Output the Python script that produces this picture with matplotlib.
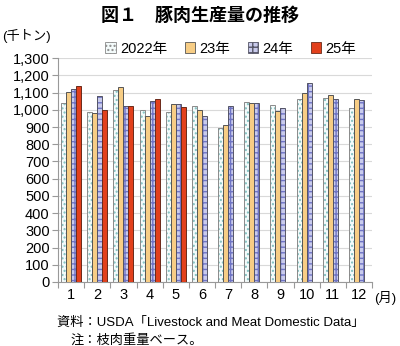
import matplotlib.pyplot as plt
import numpy as np

plt.rcParams['font.family'] = ['Liberation Sans', 'Noto Sans CJK JP', 'DejaVu Sans']
JP = ['Noto Sans CJK JP', 'DejaVu Sans']

months = [str(m) for m in range(1, 13)]
series_names = ['2022年', '23年', '24年', '25年']
v2022 = [1037, 985, 1117, 1001, 989, 1024, 896, 1047, 1030, 1063, 1068, 1012]
v2023 = [1101, 981, 1130, 964, 1033, 1001, 912, 1041, 993, 1099, 1086, 1064]
v2024 = [1120, 1078, 1022, 1053, 1035, 962, 1024, 1041, 1012, 1155, 1061, 1059]
v2025 = [1138, 999, 1024, 1064, 1016, np.nan, np.nan, np.nan, np.nan, np.nan, np.nan, np.nan]

fig = plt.figure(figsize=(4.0, 3.46), dpi=100)
ax = fig.add_axes([0.145, 0.185, 0.785, 0.647])

x = np.arange(len(months))
w = 0.19
# (face, hatch, hatch colour, edge)
styles = [
    ('#f4fbfb', '....', '#7fbfbf', '#8a8a8a'),
    ('#f7cd85', None, None, '#555555'),
    ('#c9cbec', '+++', '#6f74c4', '#555566'),
    ('#e2401c', None, None, '#6a2a1a'),
]
data = [v2022, v2023, v2024, v2025]
handles = []
for i, (vals, (fc, hatch, hc, ec)) in enumerate(zip(data, styles)):
    pos = x + (i - 1.5) * w
    if hatch:
        ax.bar(pos, vals, w, color=fc, edgecolor=hc, hatch=hatch, linewidth=0, zorder=2)
    ax.bar(pos, vals, w, facecolor=fc if not hatch else 'none', edgecolor=ec,
           linewidth=0.7, zorder=3)
    h = plt.Rectangle((0, 0), 1, 1, facecolor=fc, edgecolor=ec, hatch=hatch, linewidth=0.6)
    handles.append(h)

ax.set_ylim(0, 1300)
ax.set_xlim(-0.5, 11.5)
ax.set_yticks(range(0, 1301, 100))
ax.set_yticklabels([f'{v:,}' for v in range(0, 1301, 100)], fontsize=10.5)
ax.yaxis.grid(True, color='#d9d9d9', linewidth=0.8, zorder=0)
ax.set_axisbelow(True)

ax.set_xticks(np.arange(-0.5, 12, 1))
ax.set_xticklabels([])
ax.set_xticks(x, minor=True)
ax.set_xticklabels(months, minor=True, fontsize=10.5)
ax.tick_params(axis='x', which='minor', length=0, pad=4)
ax.tick_params(axis='x', which='major', length=4, color='#999999')
ax.tick_params(axis='y', length=4, color='#999999', pad=2)

for s in ['top', 'right']:
    ax.spines[s].set_visible(False)
ax.spines['left'].set_color('#999999')
ax.spines['bottom'].set_color('#999999')

leg = ax.legend(handles, series_names, loc='lower center', bbox_to_anchor=(0.55, 0.985),
                ncol=4, frameon=False, fontsize=10.5, handlelength=0.7, handleheight=0.7,
                handletextpad=0.3, columnspacing=1.2, borderaxespad=0)

fig.text(0.5, 0.955, '図１　豚肉生産量の推移', ha='center', va='center',
         fontsize=13, fontweight='bold', family=JP)
fig.text(0.005, 0.895, '(千トン)', ha='left', va='center', fontsize=9.5)
fig.text(0.935, 0.138, '(月)', ha='left', va='center', fontsize=9.5)
fig.text(0.143, 0.067, '資料：USDA「Livestock and Meat Domestic Data」', ha='left',
         va='center', fontsize=9.5)
fig.text(0.176, 0.018, '注：枝肉重量ベース。', ha='left', va='center', fontsize=9.5, family=JP)

plt.savefig('out.png', dpi=100)
